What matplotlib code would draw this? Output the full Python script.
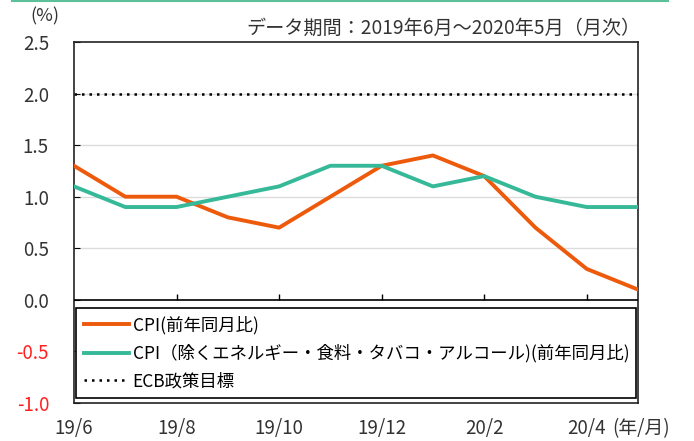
import matplotlib
matplotlib.use("Agg")
import matplotlib.pyplot as plt
from matplotlib.lines import Line2D

plt.rcParams['font.family'] = ['Noto Sans CJK JP', 'DejaVu Sans']

months = ['19/6', '19/7', '19/8', '19/9', '19/10', '19/11',
          '19/12', '20/1', '20/2', '20/3', '20/4', '20/5']
cpi = [1.3, 1.0, 1.0, 0.8, 0.7, 1.0, 1.3, 1.4, 1.2, 0.7, 0.3, 0.1]
core_cpi = [1.1, 0.9, 0.9, 1.0, 1.1, 1.3, 1.3, 1.1, 1.2, 1.0, 0.9, 0.9]
ecb_target = 2.0
yticks = [2.5, 2.0, 1.5, 1.0, 0.5, 0.0, -0.5, -1.0]

labels = ['CPI(前年同月比)',
          'CPI（除くエネルギー・食料・タバコ・アルコール)(前年同月比)',
          'ECB政策目標']

x = list(range(len(months)))

fig = plt.figure(figsize=(6.94, 4.41), dpi=100)
ax = fig.add_axes([74 / 694, 1 - 403 / 441, 564 / 694, 361 / 441])

for g in [0.5, 1.0, 1.5, 2.0]:
    ax.axhline(g, color='#dcdcdc', lw=1, zorder=0)

ax.plot(x, cpi, color='#EE5A0B', lw=2.8, label=labels[0], zorder=3)
ax.plot(x, core_cpi, color='#36B998', lw=2.8, label=labels[1], zorder=3)
ax.plot([x[0], x[-1]], [ecb_target, ecb_target], color='black', lw=1.8,
        linestyle=(0, (1, 2)), label=labels[2], zorder=2)

ax.axhline(0, color='black', lw=1.2, zorder=4)
# tick marks along the zero line
tick_idx = x[::2]
ax.vlines(tick_idx[1:], 0, 0.06, color='black', lw=1, zorder=4)

ax.set_xlim(x[0], x[-1])
ax.set_ylim(-1.0, 2.5)
ax.set_yticks(yticks)
ax.set_yticklabels([f'{v:.1f}' for v in yticks], fontsize=13.5)
for t, v in zip(ax.get_yticklabels(), yticks):
    t.set_color('#FF2020' if v < 0 else '#333333')
ax.tick_params(axis='y', direction='in', length=4, pad=18)

ax.set_xticks(tick_idx)
ax.set_xticklabels([months[i] for i in tick_idx], fontsize=13.5, color='#333333')
ax.tick_params(axis='x', length=0, pad=11)

for s in ax.spines.values():
    s.set_color('#222222')
    s.set_linewidth(1.2)

leg = ax.legend(loc='lower left', bbox_to_anchor=(0.004, 0.014, 0.992, 0.252),
                mode='expand', borderaxespad=0, fancybox=False,
                edgecolor='black', framealpha=1, fontsize=12.5,
                handlelength=2.6, labelspacing=0.55, handletextpad=0.2,
                borderpad=0.45)
leg.get_frame().set_linewidth(1.2)
leg.set_zorder(5)

ax.text(-0.052, 1.045, '(%)', transform=ax.transAxes, fontsize=13,
        ha='center', va='bottom', color='#333333')
ax.text(1.005, 1.01, 'データ期間：2019年6月～2020年5月（月次）',
        transform=ax.transAxes, fontsize=13.8, ha='right', va='bottom',
        color='#333333')
ax.text(0.955, -0.07, '(年/月)', transform=ax.transAxes, fontsize=13.5,
        ha='left', va='center', color='#333333')

fig.add_artist(Line2D([12 / 694, 668 / 694], [0.998, 0.998], color='#5CC19A', lw=1.5))

fig.savefig('out.png', dpi=100)
